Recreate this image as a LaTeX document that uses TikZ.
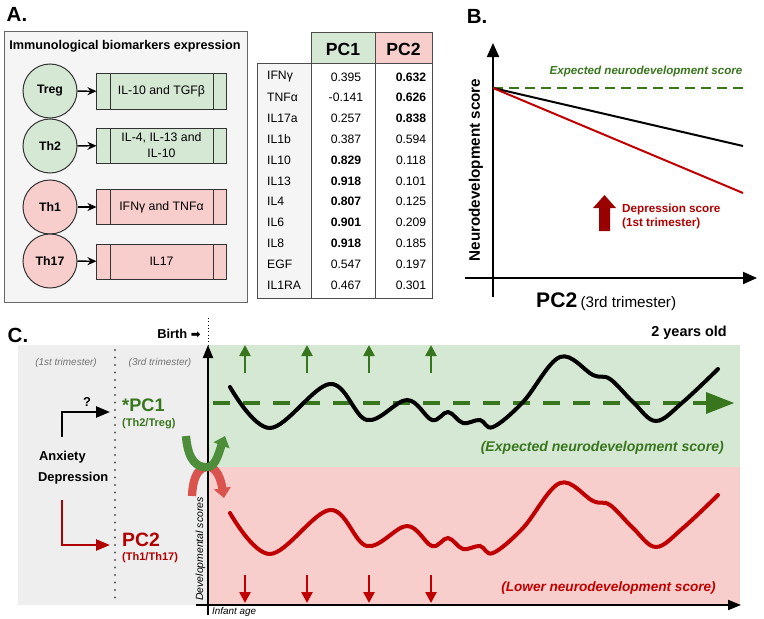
\documentclass[tikz,border=0pt]{standalone}
\usepackage{fontspec}
\setmainfont{Liberation Sans}
\newfontfamily\symfont{DejaVu Sans}
\usetikzlibrary{arrows.meta}
\newcommand{\fsz}[1]{\fontsize{#1}{#1}\selectfont}
\definecolor{grnfill}{HTML}{D5E8D4}
\definecolor{redfill}{HTML}{F8CECC}
\definecolor{greyfill}{HTML}{EEEEEE}
\definecolor{boxfill}{HTML}{F5F5F5}
\definecolor{darkgrn}{HTML}{38761D}
\definecolor{darkred}{HTML}{B00000}
\definecolor{deepred}{HTML}{990000}
\definecolor{wavered}{HTML}{C00000}
\definecolor{grnarc}{HTML}{4E8E3A}
\definecolor{redarc}{HTML}{D9534F}

\begin{document}
\begin{tikzpicture}[x=0.03cm,y=-0.03cm,
  cellnode/.style={circle,draw=black!80,line width=0.03cm,minimum size=1.62cm,inner sep=0pt,font=\bfseries\fsz{10.5}},
  cytobox/.style={draw=black!80,line width=0.03cm,minimum width=3.87cm,minimum height=1.05cm,inner sep=0pt,align=center,font=\fontsize{10.5}{13.5}\selectfont,
    path picture={\draw[black!80,line width=0.03cm] ([xshift=0.42cm]path picture bounding box.north west) -- ([xshift=0.42cm]path picture bounding box.south west) ([xshift=-0.39cm]path picture bounding box.north east) -- ([xshift=-0.39cm]path picture bounding box.south east);}},
  link/.style={-{Stealth[length=0.27cm,width=0.24cm]},line width=0.04cm},
  tabtxt/.style={font=\fsz{10.4}},
  tabbold/.style={font=\bfseries\fsz{10.4}},
  axisline/.style={line width=0.06cm,-{Triangle[length=0.42cm,width=0.36cm]}},
  upgrn/.style={darkgrn,line width=0.075cm,-{Triangle[length=0.33cm,width=0.33cm]}},
  downred/.style={wavered,line width=0.075cm,-{Triangle[length=0.33cm,width=0.33cm]}},
  elbow/.style={line width=0.075cm,-{Triangle[length=0.42cm,width=0.33cm]}},
  panel/.style={font=\bfseries\fsz{17.5}}]
\useasboundingbox (0,0) rectangle (764,618);

%%%%% A.
\node[panel] (labA) at (17,14) {A.};
\draw[fill=boxfill,draw=black!60,line width=0.03cm] (4,32) rectangle (247,302);
\node[font=\bfseries\fsz{10.8}] (title) at (125,46) {Immunological biomarkers expression};
\node[cellnode,fill=grnfill] (treg) at (50,91) {Treg};
\node[cellnode,fill=grnfill] (th2)  at (50,146) {Th2};
\node[cellnode,fill=redfill] (th1)  at (50,207) {Th1};
\node[cellnode,fill=redfill] (th17) at (50,261) {Th17};
\node[cytobox,fill=grnfill] (tregbox) at (161.5,91.5) {IL-10 and TGFβ};
\node[cytobox,fill=grnfill] (th2box)  at (161.5,145.5) {IL-4, IL-13 and\\IL-10};
\node[cytobox,fill=redfill] (th1box)  at (161.5,207) {IFNγ and TNFα};
\node[cytobox,fill=redfill] (th17box) at (161.5,261.5) {IL17};
\draw[link] (treg) -- (tregbox);
\draw[link] (th2) -- (th2box);
\draw[link] (th1) -- (th1box);
\draw[link] (th17) -- (th17box);

%%%%% table
\draw[fill=grnfill,draw=black!70,line width=0.03cm] (311,33) rectangle (375,64);
\draw[fill=redfill,draw=black!70,line width=0.03cm] (375,33) rectangle (432,64);
\draw[fill=boxfill,draw=black!70,line width=0.03cm] (257,64) rectangle (311,298);
\draw[draw=black!70,line width=0.03cm] (311,64) rectangle (375,298);
\draw[draw=black!70,line width=0.03cm] (375,64) rectangle (432,298);
\node[font=\bfseries\fsz{15}] (hPC1) at (343,49) {PC1};
\node[font=\bfseries\fsz{15}] (hPC2) at (403.5,49) {PC2};
\node[tabtxt,anchor=west] (r1) at (263,77) {IFNγ};    \node[tabtxt] (a1) at (346,77) {0.395};    \node[tabbold] (b1) at (411,77) {0.632}; %1
\node[tabtxt,anchor=west] (r2) at (263,97.8) {TNFα};  \node[tabtxt] (a2) at (346,97.8) {-0.141};  \node[tabbold] (b2) at (411,97.8) {0.626}; %2
\node[tabtxt,anchor=west] (r3) at (263,118.6) {IL17a}; \node[tabtxt] (a3) at (346,118.6) {0.257}; \node[tabbold] (b3) at (411,118.6) {0.838}; %3
\node[tabtxt,anchor=west] (r4) at (263,139.4) {IL1b};  \node[tabtxt] (a4) at (346,139.4) {0.387}; \node[tabtxt] (b4) at (411,139.4) {0.594}; %4
\node[tabtxt,anchor=west] (r5) at (263,160.2) {IL10};  \node[tabbold] (a5) at (346,160.2) {0.829}; \node[tabtxt] (b5) at (411,160.2) {0.118}; %5
\node[tabtxt,anchor=west] (r6) at (263,181) {IL13};    \node[tabbold] (a6) at (346,181) {0.918};   \node[tabtxt] (b6) at (411,181) {0.101}; %6
\node[tabtxt,anchor=west] (r7) at (263,201.8) {IL4};   \node[tabbold] (a7) at (346,201.8) {0.807}; \node[tabtxt] (b7) at (411,201.8) {0.125}; %7
\node[tabtxt,anchor=west] (r8) at (263,222.6) {IL6};   \node[tabbold] (a8) at (346,222.6) {0.901}; \node[tabtxt] (b8) at (411,222.6) {0.209}; %8
\node[tabtxt,anchor=west] (r9) at (263,243.4) {IL8};   \node[tabbold] (a9) at (346,243.4) {0.918}; \node[tabtxt] (b9) at (411,243.4) {0.185}; %9
\node[tabtxt,anchor=west] (r10) at (263,264.2) {EGF};  \node[tabtxt] (a10) at (346,264.2) {0.547}; \node[tabtxt] (b10) at (411,264.2) {0.197}; %10
\node[tabtxt,anchor=west] (r11) at (263,285) {IL1RA};  \node[tabtxt] (a11) at (346,285) {0.467};   \node[tabtxt] (b11) at (411,285) {0.301}; %11

%%%%% B.
\node[panel] (labB) at (477,16) {B.};
\draw[axisline] (493,297) -- (493,43);
\draw[axisline] (465,278) -- (757,278);
\draw[darkgrn,line width=0.06cm,dash pattern=on 0.3cm off 0.18cm] (493,88) -- (745,88);
\draw[black,line width=0.06cm] (493,88) -- (743,146);
\draw[wavered,line width=0.06cm] (493,88) -- (743,193);
\fill[deepred] (599,231) -- (610,231) -- (610,208) -- (616,208) -- (604.5,195) -- (593,208) -- (599,208) -- cycle;
\node[font=\bfseries\itshape\fsz{9.9},text=darkgrn] (expB) at (646,72) {Expected neurodevelopment score};
\node[font=\bfseries\fsz{10},text=darkred,align=left,anchor=west] (depB) at (618,216.5) {Depression score\\[0.05cm](1st trimester)};
\node[rotate=90,font=\bfseries\fsz{13}] (ylabB) at (476,170) {Neurodevelopment score};
\node[anchor=west,inner sep=0pt] (xlabB) at (536,302) {{\bfseries\fsz{18}PC2} {\fsz{13}(3rd trimester)}};

%%%%% C.
\node[panel] (labC) at (18,335) {C.};
\fill[greyfill] (18,345) rectangle (208,605);
\fill[grnfill] (208,345) rectangle (740,467);
\fill[redfill] (208,467) rectangle (740,605);
\draw[black!65,line width=0.07cm,line cap=round,dash pattern=on 0pt off 0.225cm] (115,350) -- (115,604);
\draw[black,line width=0.03cm,dotted] (208,318) -- (208,345);
\node[font=\bfseries\fsz{11}] (birth) at (179,334) {Birth {\symfont\fsz{10}➡}};
\node[font=\itshape\fsz{8.5},text=black!55] (tri1) at (66,363) {(1st trimester)};
\node[font=\itshape\fsz{8.5},text=black!55] (tri3) at (160,363) {(3rd trimester)};
\node[font=\bfseries\fsz{11},anchor=west] (anx) at (35,457) {Anxiety};
\node[font=\bfseries\fsz{11},anchor=west] (dep) at (34,478) {Depression};
\node[font=\bfseries\fsz{11}] (qm) at (87,402) {?};
\node[font=\bfseries\fsz{15.5},text=darkgrn,anchor=west,inner sep=0pt] (pc1) at (122,405) {*PC1};
\node[font=\bfseries\fsz{9.4},text=darkgrn,anchor=west,inner sep=0pt] (pc1sub) at (122,424) {(Th2/Treg)};
\node[font=\bfseries\fsz{16.5},text=darkred,anchor=west,inner sep=0pt] (pc2) at (122,540) {PC2};
\node[font=\bfseries\fsz{9.4},text=darkred,anchor=west,inner sep=0pt] (pc2sub) at (122,558) {(Th1/Th17)};
\coordinate (anxup) at (62,437);
\coordinate (pc1in) at (110,412);
\coordinate (depdown) at (62,500);
\coordinate (pc2in) at (110,545);
\draw[elbow] (anxup) |- (pc1in);
\draw[elbow,darkred] (depdown) |- (pc2in);

% axes
\draw[line width=0.06cm,-{Triangle[length=0.39cm,width=0.3cm]}] (208,615) -- (208,345);
\draw[line width=0.06cm,-{Triangle[length=0.39cm,width=0.3cm]}] (196,605) -- (741,605);
\node[rotate=90,font=\itshape\fsz{8.9}] (yscore) at (200.5,549) {Developmental scores};
\node[font=\itshape\fsz{8.4},anchor=west,inner sep=0pt] (iage) at (212,611.5) {Infant age};
\node[font=\bfseries\fsz{12.3},anchor=east,inner sep=0pt] (twoy) at (727,333) {2 years old};

% expected level
\draw[darkgrn,line width=0.12cm,dash pattern=on 0.51cm off 0.39cm] (213,403) -- (708,403);
\fill[darkgrn] (706,392) -- (734,403) -- (706,414) -- cycle;
\draw[upgrn] (245,373) -- (245,345);  \draw[upgrn] (307,373) -- (307,345);
\draw[upgrn] (369,373) -- (369,345);  \draw[upgrn] (431,373) -- (431,345);
\draw[downred] (245,575) -- (245,603);  \draw[downred] (307,575) -- (307,603);
\draw[downred] (369,575) -- (369,603);  \draw[downred] (431,575) -- (431,603);

% scores
\draw[black,line width=0.12cm,line cap=round] plot[smooth,tension=0.6] coordinates {(230,387) (270,428) (330,384) (367,420) (407,400) (432,420) (448,412) (463,423) (480,420) (493,427) (523,402) (560,357) (593,375) (610,379) (633,402) (656,421) (683,402) (718,369)};
\draw[wavered,line width=0.12cm,line cap=round] plot[smooth,tension=0.6] coordinates {(230,513) (270,554) (330,510) (367,546) (407,526) (432,546) (448,538) (463,549) (480,546) (493,553) (523,528) (560,483) (593,501) (610,505) (633,528) (656,547) (683,528) (718,495)};
\node[font=\bfseries\itshape\fsz{12},text=darkgrn,anchor=east,inner sep=0pt] (expC) at (724,448) {(Expected neurodevelopment score)};
\node[font=\bfseries\itshape\fsz{11.6},text=wavered,anchor=east,inner sep=0pt] (lowC) at (716,588) {(Lower neurodevelopment score)};

% curved arrows at birth
\draw[redarc,line width=0.25cm,-{Triangle[length=0.3cm,width=0.5cm]}] (192,496) .. controls (193,474) and (200,467) .. (208,467) .. controls (217,467) and (221,480) .. (224,498);
\draw[grnarc,line width=0.25cm,-{Triangle[length=0.3cm,width=0.5cm]}] (186,436) .. controls (188,462) and (198,468) .. (208,467) .. controls (216,466) and (219,452) .. (225,436);
\end{tikzpicture}
\end{document}
